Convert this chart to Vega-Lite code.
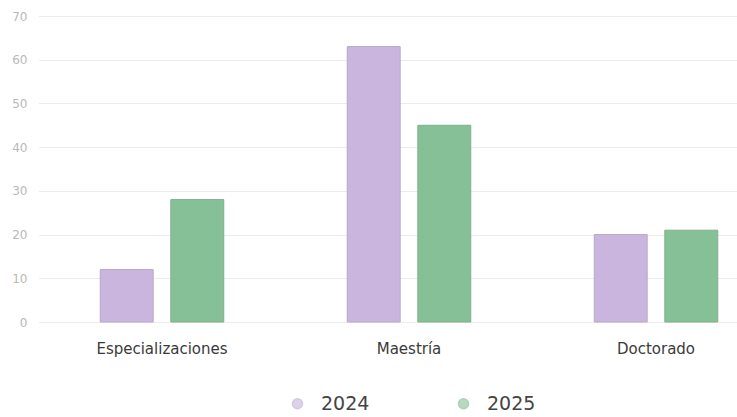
{
  "$schema": "https://vega.github.io/schema/vega-lite/v6.json",
  "autosize": {"type": "none"},
  "width": 697,
  "height": 306,
  "padding": {"left": 40, "top": 16, "right": 0, "bottom": 95},
  "background": "#ffffff",
  "config": {"view": {"stroke": null}, "font": "DejaVu Sans"},
  "data": {
    "values": [
      {"programa": "Especializaciones", "anio": "2024", "valor": 12},
      {"programa": "Especializaciones", "anio": "2025", "valor": 28},
      {"programa": "Maestría", "anio": "2024", "valor": 63},
      {"programa": "Maestría", "anio": "2025", "valor": 45},
      {"programa": "Doctorado", "anio": "2024", "valor": 20},
      {"programa": "Doctorado", "anio": "2025", "valor": 21}
    ]
  },
  "mark": {"type": "bar", "strokeWidth": 1},
  "encoding": {
    "x": {
      "field": "programa",
      "type": "nominal",
      "sort": ["Especializaciones", "Maestría", "Doctorado"],
      "scale": {"range": [-1.5, 739.5], "paddingInner": 0, "paddingOuter": 0},
      "axis": {
        "title": null,
        "labelAngle": 0,
        "domain": false,
        "ticks": false,
        "labelPadding": 19,
        "labelFontSize": 15,
        "labelColor": "#3a3a3a",
        "labelFont": "DejaVu Sans"
      }
    },
    "xOffset": {
      "field": "anio",
      "type": "nominal",
      "scale": {"paddingInner": 0.25, "paddingOuter": 0.875}
    },
    "y": {
      "field": "valor",
      "type": "quantitative",
      "scale": {"domain": [0, 70]},
      "axis": {
        "title": null,
        "values": [0, 10, 20, 30, 40, 50, 60, 70],
        "domain": false,
        "ticks": false,
        "labelPadding": 13,
        "labelFontSize": 12,
        "labelFont": "DejaVu Sans",
        "labelColor": "#b8b8b8",
        "gridColor": "#ececec",
        "gridWidth": 1
      }
    },
    "color": {
      "field": "anio",
      "type": "nominal",
      "scale": {"domain": ["2024", "2025"], "range": ["#c9b5dd", "#86c096"]},
      "legend": {
        "title": null,
        "orient": "none",
        "direction": "horizontal",
        "legendX": 248,
        "legendY": 378,
        "symbolType": "circle",
        "symbolSize": 100,
        "symbolOpacity": 0.6,
        "labelFont": "DejaVu Sans",
        "labelFontSize": 19,
        "labelColor": "#444444",
        "labelOffset": 14,
        "columnPadding": 84
      }
    },
    "stroke": {
      "field": "anio",
      "type": "nominal",
      "scale": {"domain": ["2024", "2025"], "range": ["#b8a8c8", "#7fb08c"]},
      "legend": null
    }
  }
}
